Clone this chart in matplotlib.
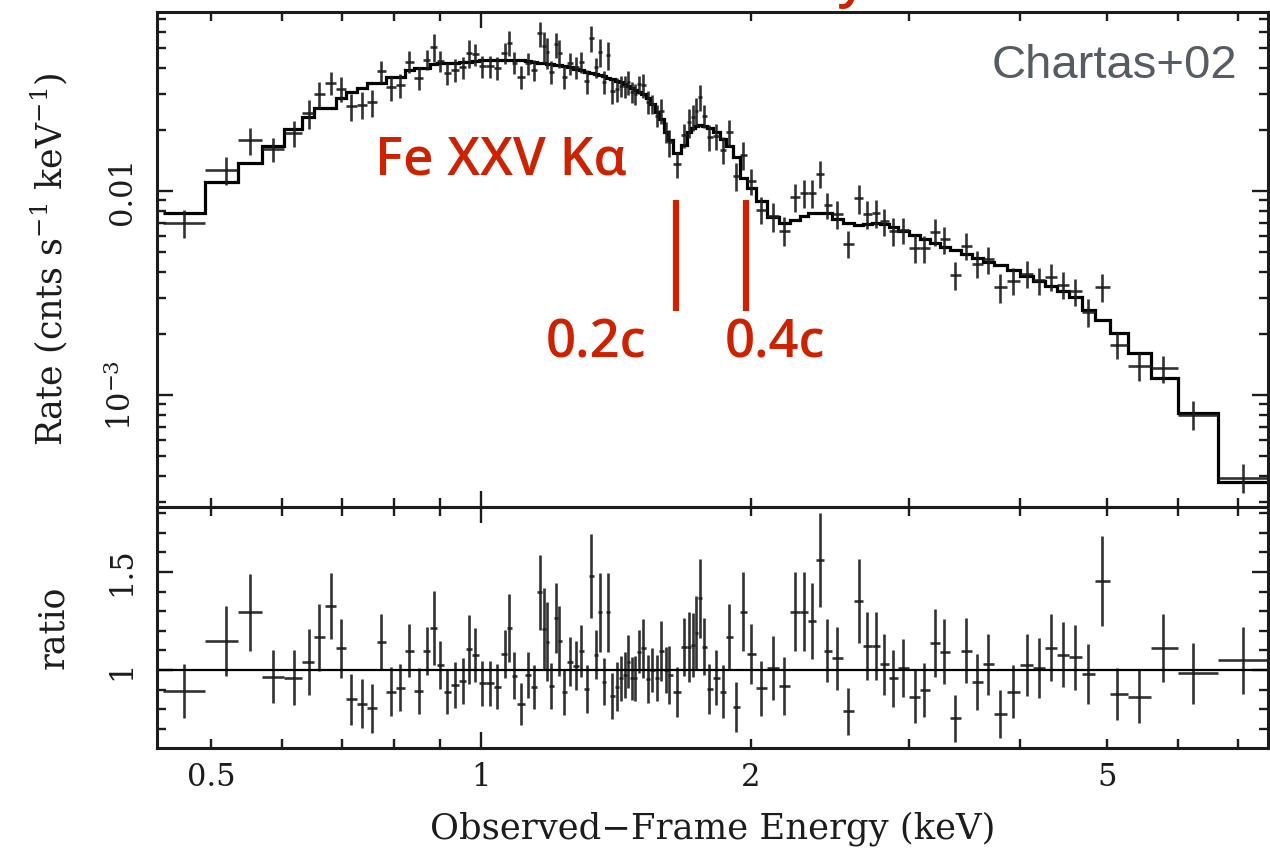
import matplotlib.pyplot as plt
import numpy as np
from matplotlib.ticker import FixedLocator, FixedFormatter, NullFormatter, MultipleLocator

# bin centres (keV)
energy = [0.466, 0.519, 0.552, 0.586, 0.618, 0.643, 0.660, 0.680, 0.698, 0.716,
          0.737, 0.756, 0.774, 0.794, 0.812, 0.831, 0.853, 0.870, 0.886, 0.900,
          0.916, 0.935, 0.955, 0.970, 0.985, 1.003, 1.023, 1.042, 1.064, 1.075,
          1.088, 1.108, 1.129, 1.146, 1.164, 1.176, 1.185, 1.197, 1.213, 1.222,
          1.238, 1.257, 1.277, 1.293, 1.313, 1.327, 1.344, 1.358, 1.372, 1.386,
          1.401, 1.419, 1.434, 1.448, 1.460, 1.474, 1.486, 1.501, 1.517, 1.536,
          1.552, 1.572, 1.588, 1.609, 1.621, 1.655, 1.685, 1.707, 1.725, 1.738,
          1.756, 1.774, 1.797,
          1.830, 1.863, 1.892, 1.926, 1.961, 2.001, 2.054, 2.118, 2.179, 2.241,
          2.294, 2.341, 2.390, 2.434, 2.497, 2.568, 2.642, 2.697, 2.760, 2.817,
          2.883, 2.958, 3.051, 3.122, 3.212, 3.287, 3.381, 3.478, 3.578, 3.680,
          3.796, 3.925, 4.069, 4.196, 4.328, 4.463, 4.602, 4.760, 4.934, 5.129,
          5.426, 5.770, 6.232, 7.086]

# folded model (cnts/s/keV)
model = [0.00780, 0.01107, 0.01372, 0.01662, 0.02013, 0.02306, 0.02551, 0.02551, 0.02856, 0.03056,
         0.03198, 0.03383, 0.03383, 0.03620, 0.03620, 0.03918, 0.04008, 0.04008, 0.04195, 0.04242,
         0.04242, 0.04242, 0.04290, 0.04290, 0.04339, 0.04389, 0.04389, 0.04389, 0.04389, 0.04389,
         0.04389, 0.04389, 0.04339, 0.04290, 0.04242, 0.04242, 0.04195, 0.04195, 0.04147, 0.04147,
         0.04100, 0.04054, 0.03963, 0.03918, 0.03831, 0.03788, 0.03745, 0.03703, 0.03661, 0.03580,
         0.03540, 0.03460, 0.03421, 0.03345, 0.03271, 0.03198, 0.03126, 0.03056, 0.02988, 0.02856,
         0.02670, 0.02440, 0.02254, 0.01946, 0.01778, 0.01536, 0.01680, 0.01946, 0.02036, 0.02083,
         0.02106, 0.02083, 0.02036,
         0.01946, 0.01798, 0.01662, 0.01468, 0.01158, 0.01034, 0.00893, 0.00746, 0.00697, 0.00721,
         0.00754, 0.00780, 0.00780, 0.00780, 0.00729, 0.00697, 0.00681, 0.00689, 0.00697, 0.00689,
         0.00666, 0.00637, 0.00609, 0.00582, 0.00556, 0.00531, 0.00514, 0.00491, 0.00469, 0.00449,
         0.00434, 0.00410, 0.00383, 0.00362, 0.00342, 0.00323, 0.00302, 0.00261, 0.00233, 0.00201,
         0.00161, 0.00121, 0.000816, 0.000375]

# observed rate (cnts/s/keV)
rate = [0.00697, 0.01271, 0.01775, 0.01606, 0.01934, 0.02405, 0.02977, 0.03385, 0.03170, 0.02598,
        0.02645, 0.02720, 0.03874, 0.03218, 0.03294, 0.04306, 0.03587, 0.04405, 0.05101, 0.04348,
        0.03771, 0.03915, 0.04050, 0.04749, 0.04673, 0.04091, 0.04091, 0.04016, 0.04749, 0.05337,
        0.04262, 0.03630, 0.04226, 0.03925, 0.05922, 0.05133, 0.04803, 0.03851, 0.05242, 0.04761,
        0.03633, 0.04228, 0.04050, 0.04306, 0.03459, 0.05606, 0.04033, 0.04792, 0.03441, 0.04633,
        0.03076, 0.03166, 0.03274, 0.03258, 0.03412, 0.03060, 0.02992, 0.03343, 0.03317, 0.02725,
        0.02670, 0.02342, 0.02477, 0.01946, 0.01732, 0.01361, 0.01880, 0.02178, 0.02297, 0.02479,
        0.02877, 0.02331, 0.01839,
        0.01870, 0.01598, 0.01945, 0.01189, 0.01503, 0.01117, 0.00809, 0.00753, 0.00640, 0.00936,
        0.00979, 0.00975, 0.01218, 0.00857, 0.00773, 0.00551, 0.00921, 0.00774, 0.00783, 0.00709,
        0.00637, 0.00643, 0.00526, 0.00523, 0.00632, 0.00581, 0.00387, 0.00540, 0.00441, 0.00462,
        0.00337, 0.00364, 0.00393, 0.00365, 0.00381, 0.00348, 0.00322, 0.00255, 0.00339, 0.00176,
        0.00139, 0.00135, 0.000802, 0.000394]

# data / model ratio and its 1-sigma error
ratio = [0.893, 1.148, 1.294, 0.966, 0.961, 1.043, 1.167, 1.327, 1.110, 0.850,
         0.827, 0.804, 1.145, 0.889, 0.910, 1.099, 0.895, 1.099, 1.216, 1.025,
         0.889, 0.923, 0.944, 1.107, 1.077, 0.932, 0.932, 0.915, 1.082, 1.216,
         0.971, 0.827, 0.974, 0.915, 1.396, 1.210, 1.145, 0.918, 1.264, 1.148,
         0.886, 1.043, 1.022, 1.099, 0.903, 1.480, 1.077, 1.294, 0.940, 1.294,
         0.869, 0.915, 0.957, 0.974, 1.043, 0.957, 0.957, 1.094, 1.110, 0.954,
         1.000, 0.960, 1.099, 1.000, 0.974, 0.886, 1.119, 1.119, 1.128, 1.190,
         1.366, 1.119, 0.903,
         0.961, 0.889, 1.170, 0.810, 1.298, 1.080, 0.906, 1.010, 0.918, 1.298,
         1.298, 1.250, 1.561, 1.099, 1.060, 0.790, 1.352, 1.124, 1.124, 1.029,
         0.957, 1.009, 0.864, 0.898, 1.136, 1.094, 0.753, 1.099, 0.940, 1.029,
         0.776, 0.889, 1.026, 1.009, 1.114, 1.077, 1.066, 0.978, 1.454, 0.876,
         0.864, 1.114, 0.983, 1.050]

ratio_err = [0.138, 0.178, 0.196, 0.134, 0.140, 0.169, 0.170, 0.170, 0.153, 0.129,
             0.125, 0.123, 0.139, 0.125, 0.121, 0.134, 0.117, 0.123, 0.189, 0.123,
             0.113, 0.119, 0.117, 0.176, 0.136, 0.115, 0.116, 0.115, 0.123, 0.173,
             0.119, 0.108, 0.117, 0.112, 0.193, 0.211, 0.200, 0.119, 0.179, 0.179,
             0.117, 0.125, 0.125, 0.132, 0.123, 0.214, 0.125, 0.200, 0.119, 0.200,
             0.117, 0.125, 0.115, 0.119, 0.136, 0.111, 0.115, 0.111, 0.149, 0.123,
             0.111, 0.119, 0.153, 0.119, 0.149, 0.128, 0.149, 0.179, 0.162, 0.187,
             0.200, 0.145, 0.128,
             0.140, 0.136, 0.168, 0.128, 0.200, 0.153, 0.138, 0.162, 0.149, 0.200,
             0.200, 0.196, 0.238, 0.162, 0.162, 0.119, 0.213, 0.174, 0.174, 0.157,
             0.145, 0.149, 0.136, 0.140, 0.174, 0.166, 0.119, 0.166, 0.142, 0.157,
             0.123, 0.136, 0.157, 0.153, 0.170, 0.166, 0.166, 0.153, 0.230, 0.132,
             0.134, 0.174, 0.157, 0.170]

# expected Fe XXV Ka energies for outflow at 0.2c and 0.4c
line_energies = [1.65, 1.976]
line_labels = ['0.2c', '0.4c']

RED = '#cc2200'
INK = '#1c1c1c'

plt.rcParams['font.family'] = 'DejaVu Serif'
plt.rcParams['mathtext.fontset'] = 'dejavuserif'

e = np.array(energy)
mid = np.sqrt(e[:-1] * e[1:])
edges = np.concatenate([[e[0] ** 2 / mid[0]], mid, [e[-1] ** 2 / mid[-1]]])
xerr = [e - edges[:-1], edges[1:] - e]
rate_a = np.array(rate)
frac = np.array(ratio_err) / np.array(ratio)

fig = plt.figure(figsize=(12.7, 8.51), dpi=100)
ax1 = fig.add_axes([0.1236, 0.4042, 0.8748, 0.5817])
ax2 = fig.add_axes([0.1236, 0.1210, 0.8748, 0.2832], sharex=ax1)

ax1.errorbar(e, rate_a, xerr=xerr, yerr=rate_a * frac, fmt='none',
             ecolor=INK, elinewidth=1.9, capsize=0, alpha=0.9)
ax1.stairs(model, edges, color='k', lw=2.3, baseline=None)

ax2.errorbar(e, ratio, xerr=xerr, yerr=ratio_err, fmt='none',
             ecolor=INK, elinewidth=1.9, capsize=0, alpha=0.9)
ax2.axhline(1, color='k', lw=1.6)

ax1.set_xscale('log')
ax1.set_yscale('log')
ax1.set_xlim(0.4347, 7.556)
ax1.set_ylim(2.825e-4, 0.07544)
ax2.set_ylim(0.602, 1.832)

for ax in (ax1, ax2):
    ax.tick_params(which='both', direction='in', top=True, right=True,
                   width=1.7, color=INK, labelsize=22, labelcolor=INK)
    ax.tick_params(which='major', length=11.5)
    ax.tick_params(which='minor', length=6.5, labelsize=22)
    ax.tick_params(axis='y', which='both', labelrotation=90, pad=14)
    ax.tick_params(axis='x', which='both', pad=10)
    for s in ax.spines.values():
        s.set_linewidth(2.2)
        s.set_color(INK)
    ax.xaxis.set_major_locator(FixedLocator([1]))
    ax.xaxis.set_minor_locator(FixedLocator([0.5, 0.6, 0.7, 0.8, 0.9, 2, 3, 4, 5, 6, 7]))
    ax.xaxis.set_major_formatter(FixedFormatter(['1']))
    ax.xaxis.set_minor_formatter(FixedFormatter(['0.5', '', '', '', '', '2', '', '', '5', '', '']))

ax1.tick_params(axis='x', which='both', labelbottom=False)

ax1.yaxis.set_major_locator(FixedLocator([1e-3, 1e-2]))
ax1.yaxis.set_major_formatter(FixedFormatter([r'10$^{-3}$', '0.01']))
ax1.yaxis.set_minor_locator(FixedLocator([3e-4, 4e-4, 5e-4, 6e-4, 7e-4, 8e-4, 9e-4,
                                          2e-3, 3e-3, 4e-3, 5e-3, 6e-3, 7e-3, 8e-3, 9e-3,
                                          2e-2, 3e-2, 4e-2, 5e-2, 6e-2, 7e-2]))
ax1.yaxis.set_minor_formatter(NullFormatter())

ax2.yaxis.set_major_locator(FixedLocator([1, 1.5]))
ax2.yaxis.set_major_formatter(FixedFormatter(['1', '1.5']))
ax2.yaxis.set_minor_locator(MultipleLocator(0.1))
ax2.yaxis.set_minor_formatter(NullFormatter())

for ax in (ax1, ax2):
    for lab in ax.get_yticklabels():
        lab.set_va('center')

ax1.set_ylabel(r'Rate (cnts s$^{-1}$ keV$^{-1}$)', fontsize=25, color=INK)
ax1.yaxis.set_label_coords(-0.078, 0.5)
ax2.set_ylabel('ratio', fontsize=25, color=INK)
ax2.yaxis.set_label_coords(-0.078, 0.5)
ax2.set_xlabel('Observed\u2212Frame Energy (keV)', fontsize=25.5, color=INK)
ax2.xaxis.set_label_coords(0.5, -0.265)

# velocity markers
for en in line_energies:
    ax1.axvline(en, ymin=0.396, ymax=0.620, color=RED, lw=4.5, solid_capstyle='butt')

red_font = dict(family=['Open Sans', 'DejaVu Sans'], weight='semibold', color=RED, fontsize=38)
ax1.text(0.196, 0.671, 'Fe XXV K\u03b1', transform=ax1.transAxes, va='baseline', **red_font)
ax1.text(0.350, 0.303, line_labels[0], transform=ax1.transAxes, va='baseline', **red_font)
ax1.text(0.511, 0.303, line_labels[1], transform=ax1.transAxes, va='baseline', **red_font)
ax1.text(0.972, 0.867, 'Chartas+02', transform=ax1.transAxes, ha='right', va='baseline',
         family='Liberation Sans', color='#565c63', fontsize=34)

# tail of the clipped slide title
fig.text(0.66, 1.0 + 4 / 851, 'y', va='baseline', **red_font)

fig.savefig('out.png', dpi=100)
